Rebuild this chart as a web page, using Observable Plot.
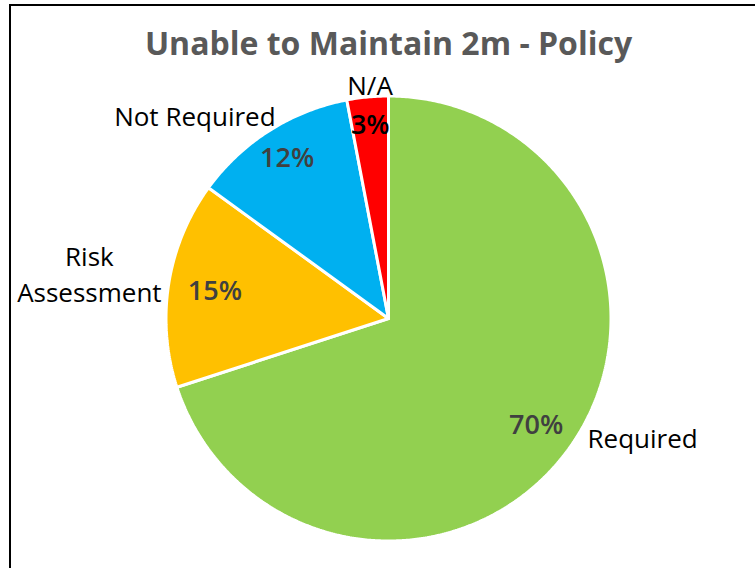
<!DOCTYPE html>
<html>
<head>
<meta charset="utf-8">
<script src="https://cdn.jsdelivr.net/npm/d3@7"></script>
<script src="https://cdn.jsdelivr.net/npm/@observablehq/plot@0.6"></script>
<style>
  html, body { margin: 0; padding: 0; background: #fff; }
  #wrap { position: relative; width: 755px; height: 568px; overflow: hidden; }
  #frame { position: absolute; left: 9px; top: 4px; width: 900px; height: 700px; border: 2px solid #000; box-sizing: border-box; pointer-events: none; }
  #chart { position: absolute; left: 0; top: 0; }
</style>
</head>
<body>
<div id="wrap"><div id="chart"></div><div id="frame"></div></div>
<script>
// ---- data ----
const title = "Unable to Maintain 2m - Policy";
const categories = ["Required", "Risk Assessment", "Not Required", "N/A"];
const percents = [70, 15, 12, 3];
const colors = ["#92D050", "#FFC000", "#00B0F0", "#FF0000"];

// ---- layout (not data) ----
const W = 755, H = 568, CX = 388, CY = 318, R = 222.5;
const pctRadius = [0.82, 0.79, 0.85, 0.87];
const pctColor = ["#404040", "#404040", "#404040", "#000000"];
const catLabel = [ // polar placement of outside labels: angle (deg, clockwise from top), radius
  {a: 115.0, r: 1.26, text: "Required"},
  {a: 278.7, r: 1.36, text: "Risk\nAssessment"},
  {a: 316.4, r: 1.262, text: "Not Required"},
  {a: 355.5, r: 1.056, text: "N/A"}
];

const total = d3.sum(percents);
const rad = deg => deg * Math.PI / 180;
let start = 0;
const slices = categories.map((c, i) => {
  const a0 = start, a1 = start + percents[i] / total * 360;
  start = a1;
  return {category: c, value: percents[i], a0, a1, mid: (a0 + a1) / 2, color: colors[i], i};
});

// polygon points for each slice (unit circle, clockwise from top)
const polyPts = [];
for (const s of slices) {
  polyPts.push({category: s.category, x: 0, y: 0});
  const n = Math.max(2, Math.ceil((s.a1 - s.a0) / 0.5));
  for (let k = 0; k <= n; k++) {
    const a = rad(s.a0 + (s.a1 - s.a0) * k / n);
    polyPts.push({category: s.category, x: Math.sin(a), y: Math.cos(a)});
  }
  polyPts.push({category: s.category, x: 0, y: 0});
}

const pctLabels = slices.map(s => ({
  x: pctRadius[s.i] * Math.sin(rad(s.mid)),
  y: pctRadius[s.i] * Math.cos(rad(s.mid)),
  text: s.value + "%",
  color: pctColor[s.i]
}));
const catLabels = catLabel.map(l => ({x: l.r * Math.sin(rad(l.a)), y: l.r * Math.cos(rad(l.a)), text: l.text}));

const chart = Plot.plot({
  width: W, height: H,
  margin: 0,
  style: {background: "transparent", fontFamily: "'Open Sans', sans-serif"},
  x: {domain: [-CX / R, (W - CX) / R], axis: null},
  y: {domain: [-(H - CY) / R, CY / R], axis: null},
  color: {domain: categories, range: colors},
  marks: [
    Plot.line(polyPts, {x: "x", y: "y", z: "category", fill: "category", stroke: "white", strokeWidth: 3, strokeLinejoin: "miter", curve: "linear"}),
    Plot.text(pctLabels, {x: "x", y: "y", text: "text", fill: "color", fontSize: 27, fontWeight: 600}),
    Plot.text(catLabels, {x: "x", y: "y", text: "text", fill: "black", fontSize: 26, lineHeight: 1.35}),
    Plot.text([title], {frameAnchor: "top", lineAnchor: "top", dx: 10.5, dy: 32, fontSize: 32, fontWeight: 700, fill: "#595959"})
  ]
});
document.getElementById("chart").appendChild(chart);
</script>
</body>
</html>
